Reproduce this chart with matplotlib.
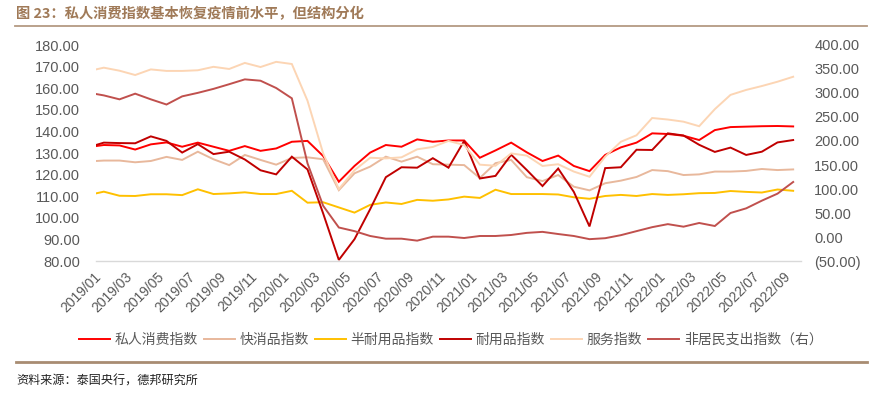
import numpy as np
import pandas as pd
import matplotlib
matplotlib.use('Agg')
from matplotlib import pyplot as plt
from matplotlib.ticker import FuncFormatter, MultipleLocator

cjk = ['Noto Sans CJK SC', 'DejaVu Sans']
num_font = ['Liberation Sans', 'DejaVu Sans']

# months 2019/01 .. 2022/09
months = [p.strftime('%Y/%m') for p in pd.period_range('2019-01', '2022-09', freq='M')]

# values read at the left edge of the plot (line comes in from the previous month)
edge_private = 133.2
edge_fmcg = 126.3
edge_semi = 111.3
edge_durable = 133.7
edge_services = 168.7
edge_nonres = 297.9

# left axis series
private = [133.7, 133.5, 131.6, 134.0, 134.9, 132.9, 134.8, 132.9, 131.0, 133.2,
           131.0, 132.1, 135.2, 135.6, 128.6, 116.7, 124.0, 130.2, 133.7, 132.9,
           136.3, 135.2, 135.8, 135.8, 127.8, 131.2, 134.8, 130.3, 126.3, 128.8,
           124.0, 121.6, 129.1, 132.6, 134.8, 139.1, 138.8, 138.0, 136.0, 140.6,
           142.0, 142.2, 142.4, 142.5, 142.3]
fmcg = [126.5, 126.5, 125.7, 126.3, 128.2, 126.8, 130.6, 127.1, 124.4, 129.1,
        126.8, 124.6, 127.7, 128.0, 127.1, 112.8, 120.6, 123.7, 128.3, 126.0,
        128.3, 124.8, 124.6, 124.4, 118.4, 125.3, 126.8, 118.8, 117.0, 119.8,
        114.4, 112.7, 116.0, 117.2, 118.9, 122.1, 121.6, 119.8, 120.1, 121.4,
        121.4, 121.7, 122.6, 122.1, 122.4]
semi = [112.1, 110.2, 110.1, 110.9, 110.9, 110.5, 113.2, 111.0, 111.3, 111.8,
        111.0, 111.0, 112.5, 107.0, 107.2, 104.8, 102.4, 106.0, 107.1, 106.4,
        108.3, 107.9, 108.5, 109.8, 109.2, 113.0, 111.0, 111.0, 111.0, 110.8,
        109.5, 108.8, 110.1, 110.6, 110.1, 111.0, 110.6, 110.9, 111.4, 111.5,
        112.4, 112.0, 111.7, 113.1, 112.5]
durable = [134.8, 134.6, 134.5, 137.7, 135.6, 130.2, 134.1, 129.5, 130.6, 127.0,
           122.0, 120.1, 128.3, 122.4, 102.0, 80.5, 90.1, 104.0, 118.8, 123.4,
           123.2, 127.6, 123.2, 135.6, 118.2, 119.4, 129.2, 122.1, 114.7, 122.8,
           112.0, 96.0, 123.0, 123.4, 131.5, 131.4, 139.1, 138.1, 133.8, 130.5,
           132.5, 129.1, 130.6, 134.9, 136.0]
services = [169.5, 168.1, 166.1, 168.7, 168.0, 168.0, 168.3, 169.9, 168.9, 171.7,
            169.8, 172.2, 171.2, 154.2, 129.8, 113.3, 122.0, 127.8, 127.5, 128.0,
            131.7, 132.8, 135.6, 133.7, 124.6, 124.1, 129.8, 128.8, 124.0, 124.8,
            121.4, 119.0, 128.3, 135.2, 138.2, 146.2, 145.5, 144.5, 142.4, 150.3,
            156.9, 159.2, 161.0, 163.0, 165.3]
# right axis series
nonres = [295.0, 286.8, 298.6, 286.8, 276.0, 293.0, 300.3, 308.6, 318.3, 328.4,
          325.6, 310.4, 288.9, 153.5, 65.0, 19.8, 12.2, 2.1, -3.5, -3.5,
          -7.6, 0.7, 0.7, -2.1, 2.1, 2.1, 4.2, 8.6, 10.7, 6.2,
          2.1, -4.5, -2.5, 3.8, 12.2, 20.5, 26.8, 21.5, 29.2, 22.9,
          50.0, 59.7, 75.7, 90.3, 114.6]

names = ['私人消费指数', '快消品指数', '半耐用品指数', '耐用品指数', '服务指数', '非居民支出指数（右）']
colors = ['#FF0000', '#E8B89C', '#FFC000', '#C00000', '#FCD5B4', '#C0504D']

x = np.r_[-0.5, np.arange(len(months))]
W, H = 882, 397
fig = plt.figure(figsize=(W/100, H/100), dpi=100)

ax = fig.add_axes([96/W, 1-261/H, (801-96)/W, (261-45)/H])
ax2 = ax.twinx()

lw = 1.4
left_series = [(edge_private, private), (edge_fmcg, fmcg), (edge_semi, semi),
               (edge_durable, durable), (edge_services, services)]
handles = []
for (e, s), c in zip(left_series, colors[:5]):
    h, = ax.plot(x, [e] + s, color=c, lw=lw, solid_joinstyle='miter')
    handles.append(h)
h, = ax2.plot(x, [edge_nonres] + nonres, color=colors[5], lw=lw, solid_joinstyle='miter')
handles.append(h)

ax.set_xlim(-0.5, len(months) - 0.5)
ax.set_ylim(80, 180)
ax.yaxis.set_major_locator(MultipleLocator(10))
ax.yaxis.set_major_formatter(FuncFormatter(lambda v, p: f'{v:.2f}'))
ax2.set_ylim(-50, 400)
ax2.yaxis.set_major_locator(MultipleLocator(50))
ax2.yaxis.set_major_formatter(FuncFormatter(lambda v, p: f'({abs(v):.2f})' if v < 0 else f'{v:.2f}'))

ticks = np.arange(0, len(months), 2)
ax.set_xticks(ticks)
ax.set_xticklabels([months[i] for i in ticks], rotation=45, ha='right', va='top',
                   fontsize=10, color='#595959', family=num_font)

for a in (ax, ax2):
    for sp in a.spines.values():
        sp.set_visible(False)
    a.tick_params(length=0)
ax.spines['bottom'].set_visible(True)
ax.spines['bottom'].set_color('#D9D9D9')
ax.spines['bottom'].set_linewidth(1.0)
ax.tick_params(axis='x', pad=6)
ax.tick_params(axis='y', pad=11.5)
ax2.tick_params(axis='y', pad=9.5)
for lab in ax.get_yticklabels() + ax2.get_yticklabels():
    lab.set_fontsize(10.5)
    lab.set_color('#595959')
    lab.set_family(num_font)

fig.legend(handles, names, loc='center', bbox_to_anchor=(451/W, 1-340/H), ncol=6,
           frameon=False, handlelength=2.2, handletextpad=0.35, columnspacing=0.45,
           prop={'family': cjk, 'size': 10}, labelcolor='#595959')

# title, rules and source
fig.text(16/W, 1-14/H, '图 23：私人消费指数基本恢复疫情前水平，但结构分化', family=cjk,
         fontsize=10.3, fontweight='bold', color='#A07A58', va='center', ha='left')
fig.add_artist(plt.Line2D([15/W, 867/W], [1-25.5/H, 1-25.5/H], color='#B49A82', lw=1.3))
fig.add_artist(plt.Line2D([16/W, 867/W], [1-362/H, 1-362/H], color='#A88C72', lw=2.0))
fig.text(16/W, 1-381/H, '资料来源：泰国央行，德邦研究所', family=cjk, fontsize=8.7,
         color='#222222', va='center', ha='left')

fig.savefig('out.png', dpi=100)
